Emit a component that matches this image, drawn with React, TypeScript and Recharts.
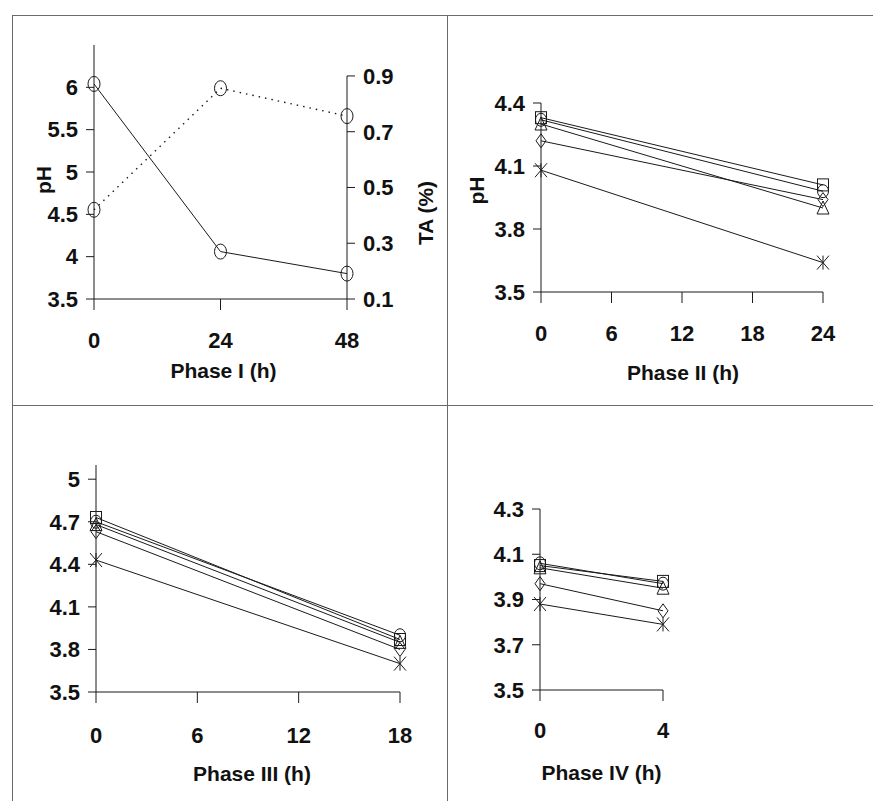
import React from 'react';
import { LineChart, Line, XAxis, YAxis, ReferenceLine } from 'recharts';

// Phase I: pH (left axis) and titratable acidity (right axis)
const phase1Hours = [0, 24, 48];
const phase1PH = [6.04, 4.06, 3.8];
const phase1TA = [0.42, 0.856, 0.756];

// Phase II
const phase2Hours = [0, 24];
const phase2Square = [4.33, 4.01];
const phase2Circle = [4.32, 3.98];
const phase2Triangle = [4.3, 3.9];
const phase2Diamond = [4.22, 3.94];
const phase2Star = [4.08, 3.64];

// Phase III
const phase3Hours = [0, 18];
const phase3Square = [4.73, 3.87];
const phase3Circle = [4.7, 3.9];
const phase3Triangle = [4.68, 3.85];
const phase3Diamond = [4.63, 3.8];
const phase3Star = [4.43, 3.7];

// Phase IV
const phase4Hours = [0, 4];
const phase4Square = [4.05, 3.98];
const phase4Circle = [4.06, 3.97];
const phase4Triangle = [4.04, 3.95];
const phase4Diamond = [3.97, 3.85];
const phase4Star = [3.88, 3.79];

const phase1Ticks = [0, 24, 48];
const phase2Ticks = [0, 6, 12, 18, 24];
const phase3Ticks = [0, 6, 12, 18];
const phase4Ticks = [0, 4];

const ph1Ticks = [3.5, 4, 4.5, 5, 5.5, 6];
const ta1Ticks = [0.1, 0.3, 0.5, 0.7, 0.9];
const ph2Ticks = [3.5, 3.8, 4.1, 4.4];
const ph3Ticks = [3.5, 3.8, 4.1, 4.4, 4.7, 5];
const ph4Ticks = [3.5, 3.7, 3.9, 4.1, 4.3];

const SHAPES = ['square', 'circle', 'triangle', 'diamond', 'star'];

const FONT = '"Liberation Sans", Arial, sans-serif';
const INK = '#1a1a1a';

const tickStyle = { fontSize: 22, fontWeight: 700, fill: '#111', fontFamily: FONT };
const titleStyle = { fontSize: 21, fontWeight: 700, fill: '#111', fontFamily: FONT };

const rows = (hours: number[], cols: Record<string, number[]>) =>
  hours.map((h, i) => {
    const r: any = { h };
    Object.keys(cols).forEach(k => { r[k] = cols[k][i]; });
    return r;
  });

const phase1Data = rows(phase1Hours, { ph: phase1PH, ta: phase1TA });
const phase2Data = rows(phase2Hours, {
  square: phase2Square, circle: phase2Circle, triangle: phase2Triangle, diamond: phase2Diamond, star: phase2Star,
});
const phase3Data = rows(phase3Hours, {
  square: phase3Square, circle: phase3Circle, triangle: phase3Triangle, diamond: phase3Diamond, star: phase3Star,
});
const phase4Data = rows(phase4Hours, {
  square: phase4Square, circle: phase4Circle, triangle: phase4Triangle, diamond: phase4Diamond, star: phase4Star,
});

const marker = (shape: string, big = false) => (props: any) => {
  const { cx, cy, key } = props;
  if (cx == null || cy == null) return <g key={key} />;
  const s = { fill: 'none', stroke: INK, strokeWidth: 1 };
  switch (shape) {
    case 'square':
      return <rect key={key} x={cx - 5.5} y={cy - 6} width={11} height={12} {...s} />;
    case 'circle':
      return <ellipse key={key} cx={cx} cy={cy} rx={big ? 6 : 5.5} ry={big ? 7.5 : 6.5} {...s} />;
    case 'triangle':
      return <polygon key={key} points={`${cx},${cy - 7} ${cx + 6},${cy + 6} ${cx - 6},${cy + 6}`} {...s} />;
    case 'diamond':
      return <polygon key={key} points={`${cx},${cy - 7} ${cx + 5},${cy} ${cx},${cy + 7} ${cx - 5},${cy}`} {...s} />;
    default:
      return (
        <path
          key={key}
          d={`M${cx - 6},${cy - 7}L${cx + 6},${cy + 7}M${cx + 6},${cy - 7}L${cx - 6},${cy + 7}M${cx},${cy - 7}L${cx},${cy + 7}`}
          {...s}
        />
      );
  }
};

// rotated y-axis title, placed relative to the axis box
const vTitle = (text: string, dx: number, dy: number) => (props: any) => {
  const vb = props.viewBox || {};
  const cx = vb.x + dx;
  const cy = vb.y + vb.height / 2 + dy;
  return (
    <text x={cx} y={cy} transform={`rotate(-90 ${cx} ${cy})`} textAnchor="middle" dominantBaseline="central" {...titleStyle}>
      {text}
    </text>
  );
};

// x-axis title: dy is the distance from the axis line to the top of the capitals
const hTitle = (text: string, dx: number, dy: number) => (props: any) => {
  const vb = props.viewBox || {};
  return (
    <text x={vb.x + vb.width / 2 + dx} y={vb.y + dy + 15} textAnchor="middle" {...titleStyle}>
      {text}
    </text>
  );
};

const axisLine = { stroke: INK, strokeWidth: 1 };

const Box: React.FC<{ left: number; top: number; children: React.ReactNode }> = ({ left, top, children }) => (
  <div style={{ position: 'absolute', left, top }}>{children}</div>
);

const PhaseChart: React.FC<{
  data: any[];
  width: number;
  height: number;
  margin: any;
  yWidth: number;
  xHeight: number;
  xDomain: number[];
  xTicks: number[];
  yDomain: number[];
  yTicks: number[];
  tickGap: number;
  title: string;
  titleDx: number;
  titleDy: number;
  yTitle?: any;
}> = p => (
  <LineChart width={p.width} height={p.height} data={p.data} margin={p.margin}>
    <XAxis
      dataKey="h"
      type="number"
      domain={p.xDomain}
      ticks={p.xTicks}
      interval={0}
      height={p.xHeight}
      tickSize={11}
      tickMargin={p.tickGap - 11}
      axisLine={axisLine}
      tickLine={axisLine}
      tick={tickStyle}
      label={hTitle(p.title, p.titleDx, p.titleDy)}
    />
    <YAxis
      type="number"
      domain={p.yDomain}
      ticks={p.yTicks}
      interval={0}
      width={p.yWidth}
      tickSize={8}
      tickMargin={8}
      axisLine={axisLine}
      tickLine={axisLine}
      tick={tickStyle}
      label={p.yTitle}
    />
    {SHAPES.map(s => (
      <Line
        key={s}
        dataKey={s}
        stroke={INK}
        strokeWidth={1}
        dot={marker(s)}
        activeDot={false}
        isAnimationActive={false}
      />
    ))}
  </LineChart>
);

const Rule: React.FC<{ x: number; y: number; w: number; h: number }> = ({ x, y, w, h }) => (
  <div style={{ position: 'absolute', left: x, top: y, width: w, height: h, background: '#6a6a6a' }} />
);

export default function App() {
  return (
    <div style={{ position: 'absolute', left: 0, top: 0, width: 873, height: 803, background: '#fff', overflow: 'hidden' }}>
      {/* Phase I */}
      <Box left={13} top={17}>
        <LineChart width={433} height={388} data={phase1Data} margin={{ top: 28, right: 0, bottom: 0, left: 0 }}>
          <XAxis
            dataKey="h"
            type="number"
            domain={[0, 48]}
            ticks={phase1Ticks}
            interval={0}
            height={106}
            tickSize={11}
            tickMargin={22}
            axisLine={axisLine}
            tickLine={axisLine}
            tick={tickStyle}
            label={hTitle('Phase I (h)', 3, 64)}
          />
          <YAxis
            yAxisId="left"
            type="number"
            domain={[3.5, 6.5]}
            ticks={ph1Ticks}
            interval={0}
            width={81}
            tickSize={8}
            tickMargin={8}
            axisLine={axisLine}
            tickLine={axisLine}
            tick={tickStyle}
            label={vTitle('pH', 30, 8)}
          />
          <YAxis
            yAxisId="right"
            orientation="right"
            type="number"
            domain={[0.1, 1.011]}
            ticks={ta1Ticks}
            interval={0}
            width={99}
            tickSize={8}
            tickMargin={8}
            axisLine={false}
            tickLine={axisLine}
            tick={tickStyle}
            label={vTitle('TA (%)', 78, 41)}
          />
          <ReferenceLine
            yAxisId="right"
            segment={[{ x: 48, y: 0.1 }, { x: 48, y: 0.9 }]}
            stroke={INK}
            strokeWidth={1}
          />
          <Line
            yAxisId="left"
            dataKey="ph"
            stroke={INK}
            strokeWidth={1}
            dot={marker('circle', true)}
            activeDot={false}
            isAnimationActive={false}
          />
          <Line
            yAxisId="right"
            dataKey="ta"
            stroke={INK}
            strokeWidth={1.4}
            strokeDasharray="1.5 5"
            dot={marker('circle', true)}
            activeDot={false}
            isAnimationActive={false}
          />
        </LineChart>
      </Box>

      {/* Phase II */}
      <Box left={448} top={17}>
        <PhaseChart
          data={phase2Data}
          width={425}
          height={388}
          margin={{ top: 86, right: 50, bottom: 0, left: 0 }}
          yWidth={93}
          xHeight={113}
          xDomain={[0, 24]}
          xTicks={phase2Ticks}
          yDomain={[3.5, 4.4]}
          yTicks={ph2Ticks}
          tickGap={33}
          title="Phase II (h)"
          titleDx={1}
          titleDy={73}
          yTitle={vTitle('pH', 28, -7)}
        />
      </Box>

      {/* Phase III */}
      <Box left={13} top={407}>
        <PhaseChart
          data={phase3Data}
          width={434}
          height={393}
          margin={{ top: 58, right: 47, bottom: 0, left: 0 }}
          yWidth={83}
          xHeight={108}
          xDomain={[0, 18]}
          xTicks={phase3Ticks}
          yDomain={[3.5, 5.1]}
          yTicks={ph3Ticks}
          tickGap={35}
          title="Phase III (h)"
          titleDx={4}
          titleDy={74}
        />
      </Box>

      {/* Phase IV */}
      <Box left={448} top={407}>
        <PhaseChart
          data={phase4Data}
          width={425}
          height={393}
          margin={{ top: 102, right: 210, bottom: 0, left: 0 }}
          yWidth={92}
          xHeight={110}
          xDomain={[0, 4]}
          xTicks={phase4Ticks}
          yDomain={[3.5, 4.3]}
          yTicks={ph4Ticks}
          tickGap={32}
          title="Phase IV (h)"
          titleDx={0}
          titleDy={75}
        />
      </Box>

      {/* panel frame */}
      <Rule x={12} y={15} w={861} h={1} />
      <Rule x={12} y={15} w={1} h={786} />
      <Rule x={447} y={15} w={1} h={786} />
      <Rule x={12} y={405} w={861} h={1} />
    </div>
  );
}
